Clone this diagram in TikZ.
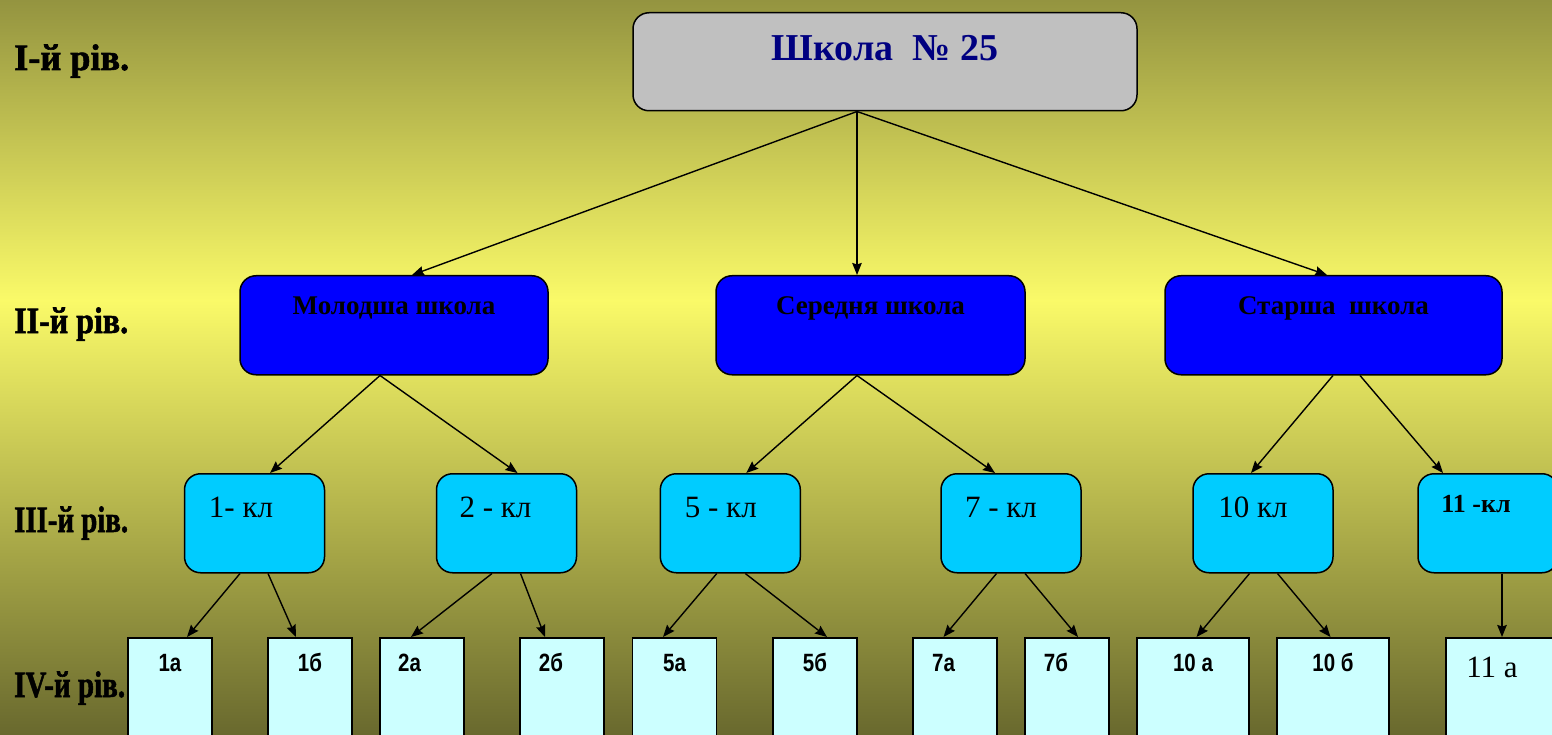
\documentclass[tikz,border=0pt]{standalone}
\usepackage{fontspec}
\usepackage{graphicx}
\setmainfont{Liberation Serif}
\newfontfamily\narrowsans[FakeStretch=0.82]{Liberation Sans}
\newfontfamily\heavyserif[FakeBold=1.6]{Liberation Serif Bold}
\usetikzlibrary{arrows.meta}
\definecolor{topgray}{RGB}{192,192,192}
\definecolor{navytext}{RGB}{0,0,128}
\definecolor{midblue}{RGB}{0,0,255}
\definecolor{classcyan}{RGB}{0,204,255}
\definecolor{subpale}{RGB}{204,255,255}
\pgfdeclareverticalshading{bgshade}{100bp}{rgb(0bp)=(0.41,0.41,0.18); rgb(25bp)=(0.41,0.41,0.18); rgb(54.6bp)=(0.98,0.98,0.41); rgb(75bp)=(0.58,0.58,0.25); rgb(100bp)=(0.58,0.58,0.25)}
\tikzset{
  lvl/.style={anchor=base west, inner sep=0pt, font=\fontsize{37}{40}\selectfont\heavyserif},
  boxline/.style={draw=black, line width=1.5pt},
  schoolbox/.style={boxline, fill=topgray, rounded corners=16pt, anchor=north, inner xsep=0pt, inner ysep=0pt, minimum width=504pt, text height=48pt, text depth=50pt, font=\fontsize{38}{40}\selectfont\bfseries, text=navytext},
  stagebox/.style={boxline, fill=midblue, rounded corners=16pt, anchor=north, inner xsep=0pt, inner ysep=0pt, text height=39pt, text depth=60pt, font=\fontsize{27}{30}\selectfont\bfseries},
  classbox/.style={boxline, fill=classcyan, rounded corners=16pt, anchor=north, inner xsep=0pt, inner ysep=0pt, minimum width=140pt, text height=44pt, text depth=55pt, font=\fontsize{31}{34}\selectfont},
  groupbox/.style={boxline, fill=subpale, anchor=north, inner xsep=0pt, inner ysep=0pt, minimum width=84pt, text height=34pt, text depth=74pt, font=\fontsize{25}{28}\selectfont\narrowsans\bfseries},
  link/.style={line width=1.4pt, -{Stealth[length=12pt,width=9.5pt,inset=1.5pt]}},
}
\begin{document}
\begin{tikzpicture}[x=1pt,y=-1pt]
\clip (0,0) rectangle (1552,735);
\shade[shading=bgshade] (0,0) rectangle (1552,735);

% level labels
\node[lvl] (lvA) at (14,70) {\resizebox{115pt}{\height}{I-й рів.}};
\node[lvl] (lvB) at (14,333) {\resizebox{114pt}{\height}{II-й рів.}};
\node[lvl] (lvC) at (14,532) {\resizebox{114pt}{\height}{III-й рів.}};
\node[lvl] (lvD) at (14,697) {\resizebox{111pt}{\height}{IV-й рів.}};

% level I
\node[schoolbox] (school) at (885,12) {Школа\ \ № 25};

% level II
\node[stagebox, minimum width=308pt] (junior) at (394,275) {Молодша школа};
\node[stagebox, minimum width=309pt] (middle) at (870.5,275) {Середня школа};
\node[stagebox, minimum width=337pt] (senior) at (1333.5,275) {Старша\ \ школа};

% level III
\node[classbox] (c1) at (254.5,473) {1- кл\hspace*{27pt}};
\node[classbox] (c2) at (506.5,473) {2 - кл\hspace*{22pt}};
\node[classbox] (c5) at (730.3,473) {5 - кл\hspace*{19pt}};
\node[classbox] (c7) at (1011,473) {7 - кл\hspace*{20pt}};
\node[classbox] (c10) at (1263,473) {10 кл\hspace*{20pt}};
\node[classbox, text height=39pt, text depth=60pt, font=\fontsize{26}{28}\selectfont\bfseries] (c11) at (1488,473) {11 -кл\hspace*{24pt}};

% level IV
\node[groupbox] (g1a) at (170,637) {1а};
\node[groupbox] (g1b) at (310,637) {1б};
\node[groupbox] (g2a) at (422,637) {2а\hspace*{25pt}};
\node[groupbox] (g2b) at (562,637) {2б\hspace*{22pt}};
\node[groupbox] (g5a) at (674.5,637) {5а};
\node[groupbox] (g5b) at (815,637) {5б};
\node[groupbox] (g7a) at (955,637) {7а\hspace*{23pt}};
\node[groupbox] (g7b) at (1067,637) {7б\hspace*{22pt}};
\node[groupbox, minimum width=112pt] (g10a) at (1193,637) {10 а};
\node[groupbox, minimum width=112pt] (g10b) at (1333,637) {10 б};
\node[groupbox, minimum width=114pt, text height=40pt, text depth=68pt, font=\fontsize{31}{34}\selectfont] (g11a) at (1503,637) {11 а\hspace*{22pt}};

% connectors I -> II
\draw[link] ([xshift=-28pt]school.south) -- ([xshift=18pt]junior.north);
\draw[link] ([xshift=-28pt]school.south) -- ([xshift=-13.5pt]middle.north);
\draw[link] ([xshift=-28pt]school.south) -- ([xshift=-6.5pt]senior.north);

% II -> III
\draw[link] ([xshift=-14pt]junior.south) -- ([xshift=15.5pt]c1.north);
\draw[link] ([xshift=-14pt]junior.south) -- ([xshift=11pt]c2.north);
\draw[link] ([xshift=-13.5pt]middle.south) -- ([xshift=16pt]c5.north);
\draw[link] ([xshift=-13.5pt]middle.south) -- ([xshift=-16pt]c7.north);
\draw[link] ([xshift=-0.5pt]senior.south) -- ([xshift=-12pt]c10.north);
\draw[link] ([xshift=26.5pt]senior.south) -- ([xshift=-45pt]c11.north);

% III -> IV
\draw[link] ([xshift=-14.5pt]c1.south) -- ([xshift=17pt]g1a.north);
\draw[link] ([xshift=13.5pt]c1.south) -- ([xshift=-14pt]g1b.north);
\draw[link] ([xshift=-14.5pt]c2.south) -- ([xshift=-11pt]g2a.north);
\draw[link] ([xshift=14pt]c2.south) -- ([xshift=-17pt]g2b.north);
\draw[link] ([xshift=-13.5pt]c5.south) -- ([xshift=-11.5pt]g5a.north);
\draw[link] ([xshift=15pt]c5.south) -- ([xshift=12pt]g5b.north);
\draw[link] ([xshift=-14.5pt]c7.south) -- ([xshift=-11.5pt]g7a.north);
\draw[link] ([xshift=14pt]c7.south) -- ([xshift=11pt]g7b.north);
\draw[link] ([xshift=-13.5pt]c10.south) -- ([xshift=3.5pt]g10a.north);
\draw[link] ([xshift=14.5pt]c10.south) -- ([xshift=-2.5pt]g10b.north);
\draw[link] ([xshift=14pt]c11.south) -- ([xshift=-1pt]g11a.north);
\end{tikzpicture}
\end{document}
